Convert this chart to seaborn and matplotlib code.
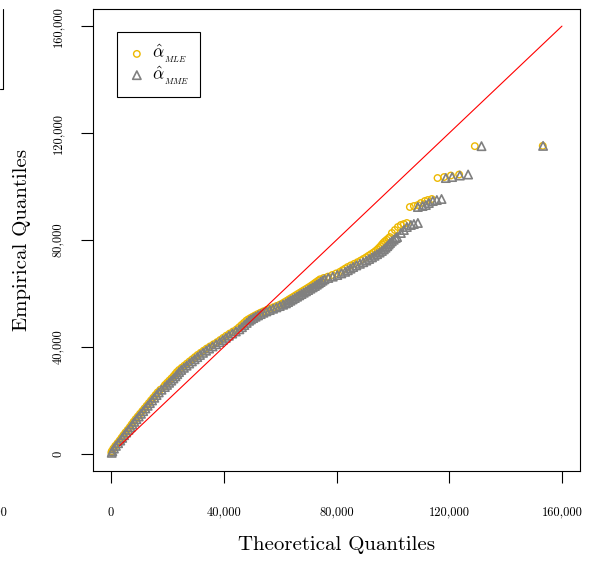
import pandas as pd
import seaborn as sns
import matplotlib.pyplot as plt
from matplotlib.lines import Line2D

# Empirical quantiles (sorted sample) - shared by both fitted models
empirical = [
    400, 1000, 2000, 3000, 4000, 5000, 6000, 7000, 8000, 9000, 10000, 11000, 12000,
    13000, 14000, 15000, 16000, 17000, 18000, 19000, 20000, 21000, 22000, 23000, 24000, 25000,
    25800, 26600, 27400, 28200, 29000, 29800, 30600, 31400, 32200, 33000, 33800, 34600,
    35400, 36200, 37000, 37800, 38600, 39400, 40200, 41000, 41800, 42600, 43400, 44200,
    45000, 45800, 46600, 47400, 48200, 49000, 49800,
    50300, 50800, 51300, 51800, 52300, 52800, 53300, 53800, 54300, 54800, 55300, 55800,
    56300, 56800, 57300, 57800, 58300, 58800, 59300, 59800, 60300, 60800, 61300, 61800,
    62300, 62800, 63300, 63800, 64300, 64800, 65300, 65800, 66300,
    66900, 67500, 68100, 68700, 69300, 69900, 70500, 71100, 71700, 72300, 72900, 73500,
    74100, 74700, 75300, 75900, 76500, 77100, 77700, 78300, 78900, 79500, 80100, 80700, 81100,
    82620, 83740, 84860, 85610, 85980, 86360,
    92340, 92710, 93080, 93830, 94580, 94950, 95330,
    103180, 103550, 104110, 104490,
    115100, 115200,
]

# Theoretical quantiles under the MLE fit
theo_mle = [
    120, 250, 820, 1500, 2280, 3040, 3720, 4390, 5110, 5900, 6650, 7310, 7980,
    8720, 9500, 10280, 11070, 11850, 12630, 13410, 14180, 14970, 15750, 16530, 17480, 18640,
    19150, 19900, 20650, 21400, 22120, 22740, 23360, 24130, 25070, 26010, 26940, 27880,
    28830, 29760, 30700, 31770, 32840, 33920, 35120, 36380, 37630, 38720, 39790, 40870,
    42060, 43310, 44560, 45470, 46300, 47140, 47970,
    48640, 49450, 50270, 51130, 52060, 53000, 54030, 55200, 56360, 57520, 58690, 59860,
    60840, 61620, 62400, 63170, 63940, 64710, 65480, 66250, 67020, 67790, 68560, 69330,
    70110, 70880, 71540, 72200, 72850, 73510, 74170, 75450, 76970,
    78480, 79880, 81220, 82140, 83060, 83980, 85070, 86300, 87470, 88540, 89510, 90480,
    91350, 92220, 93090, 93860, 94530, 95100, 95650, 96120, 96590, 97160, 97830, 98500, 98950,
    99650, 100710, 101770, 102840, 103900, 104960,
    106030, 107450, 108870, 109930, 111350, 112410, 113830,
    115850, 118190, 120570, 123510,
    129080, 153190,
]

# Theoretical quantiles under the MME fit
theo_mme = [
    250, 450, 1030, 1720, 2510, 3280, 3960, 4640, 5370, 6170, 6930, 7600, 8280,
    9030, 9820, 10610, 11410, 12200, 12990, 13780, 14560, 15360, 16150, 16940, 17910, 19090,
    19860, 20620, 21380, 22140, 22870, 23500, 24130, 24910, 25860, 26810, 27750, 28700,
    29660, 30600, 31550, 32630, 33710, 34800, 36010, 37280, 38540, 39640, 40720, 41810,
    43010, 44270, 45530, 46450, 47290, 48140, 48980,
    49640, 50460, 51290, 52170, 53120, 54080, 55130, 56320, 57500, 58680, 59870, 61060,
    62060, 62850, 63640, 64430, 65220, 66010, 66800, 67590, 68380, 69170, 69960, 70750,
    71550, 72340, 73020, 73700, 74370, 75050, 75730, 77090, 78670,
    80280, 81700, 83070, 84020, 84970, 85920, 87040, 88300, 89500, 90600, 91600, 92600,
    93500, 94400, 95300, 96100, 96800, 97400, 98000, 98500, 99000, 99600, 100300, 101000, 101500,
    102840, 103900, 104960, 106380, 107450, 108870,
    108870, 110530, 111700, 112770, 114180, 115600, 117270,
    118790, 121030, 123760, 126700,
    131450, 153300,
]

ref_line = [3000, 160000]
tick_vals = [0, 40000, 80000, 120000, 160000]
tick_labels = ['0', '40,000', '80,000', '120,000', '160,000']
series_names = [r'$\hat{\alpha}_{_{MLE}}$', r'$\hat{\alpha}_{_{MME}}$']
series_colors = ['#EDB800', '#808080']

sns.set_style('ticks')
plt.rcParams['font.family'] = 'serif'
plt.rcParams['font.serif'] = ['cmr10']
plt.rcParams['mathtext.fontset'] = 'cm'
plt.rcParams['axes.formatter.use_mathtext'] = True
for key in ['text.color', 'axes.labelcolor', 'xtick.color', 'ytick.color', 'axes.edgecolor']:
    plt.rcParams[key] = 'black'

fig = plt.figure(figsize=(5.96, 5.63), dpi=100)
ax = fig.add_axes([93 / 596, 1 - 471 / 563, 487 / 596, 462 / 563])

mle_df = pd.DataFrame({'theoretical': theo_mle, 'empirical': empirical})
mme_df = pd.DataFrame({'theoretical': theo_mme, 'empirical': empirical})

sns.scatterplot(data=mle_df, x='theoretical', y='empirical', marker='o', s=22,
                facecolor='none', edgecolor=series_colors[0], linewidth=1.0,
                label=series_names[0], ax=ax)
sns.scatterplot(data=mme_df, x='theoretical', y='empirical', marker='^', s=36,
                facecolor='none', edgecolor=series_colors[1], linewidth=1.2,
                label=series_names[1], ax=ax)
ax.plot(ref_line, ref_line, color='red', lw=0.8, zorder=3)

ax.set_xlim(-6400, 166400)
ax.set_ylim(-6400, 166400)
ax.set_xticks(tick_vals, tick_labels)
ax.set_yticks(tick_vals, tick_labels)
ax.tick_params(direction='out', length=8.6, width=0.8, labelsize=9, color='black')
ax.tick_params(axis='x', pad=17)
ax.tick_params(axis='y', pad=12)
for lab in ax.get_yticklabels():
    lab.set_rotation(90)
    lab.set_va('center')
for s in ax.spines.values():
    s.set_color('black')
    s.set_linewidth(0.8)

ax.set_xlabel('Theoretical Quantiles', fontsize=15)
ax.xaxis.set_label_coords(0.5, -(545 - 471) / 462)
ax.xaxis.label.set_va('center')
ax.set_ylabel('Empirical Quantiles', fontsize=15)
ax.yaxis.set_label_coords(-(93 - 22) / 487, 0.5)
ax.yaxis.label.set_va('center')

leg = ax.legend(loc='upper left', bbox_to_anchor=(0.049, 0.950), borderaxespad=0,
                frameon=True, fancybox=False, edgecolor='black', framealpha=1,
                fontsize=12.5, borderpad=0.6, handlelength=1.1, handletextpad=0.35,
                labelspacing=-0.1, markerscale=1.0)
leg.get_frame().set_linewidth(0.8)

# bits of the neighbouring panel cut off at the left edge
fig.add_artist(Line2D([2.7 / 596] * 2, [1 - 9 / 563, 1 - 89 / 563], color='black', lw=0.8))
fig.add_artist(Line2D([0, 2.7 / 596], [1 - 89 / 563] * 2, color='black', lw=0.8))
fig.text(8 / 596, 1 - 512 / 563, '160,000', ha='right', va='center', fontsize=9)

fig.savefig('out.png', dpi=100)
